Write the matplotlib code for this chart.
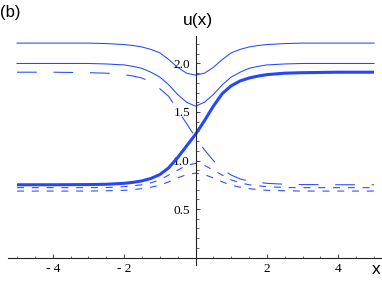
import matplotlib
matplotlib.use("Agg")
import matplotlib.pyplot as plt
from matplotlib.ticker import FixedLocator, MultipleLocator, FixedFormatter

# ========== Data ==========
x_pts = [-5, -4, -3, -2.5, -2, -1.75, -1.5, -1.25, -1, -0.75, -0.5, -0.25, 0,
         0.25, 0.5, 0.75, 1, 1.25, 1.5, 1.75, 2, 2.5, 3, 4, 5]

u_kink   = [0.75, 0.75, 0.752, 0.755, 0.765, 0.775, 0.79, 0.815, 0.855, 0.925, 1.03, 1.15, 1.27,
            1.41, 1.56, 1.69, 1.77, 1.82, 1.85, 1.87, 1.885, 1.90, 1.905, 1.91, 1.91]
u_top    = [2.21, 2.21, 2.21, 2.205, 2.195, 2.185, 2.17, 2.145, 2.11, 2.04, 1.96, 1.90, 1.88,
            1.90, 1.96, 2.04, 2.11, 2.145, 2.17, 2.185, 2.195, 2.205, 2.21, 2.21, 2.21]
u_second = [2.00, 2.00, 2.00, 1.995, 1.985, 1.97, 1.95, 1.91, 1.86, 1.78, 1.68, 1.60, 1.56,
            1.60, 1.68, 1.78, 1.86, 1.91, 1.95, 1.97, 1.985, 1.995, 2.00, 2.00, 2.00]
u_antik  = [1.91, 1.91, 1.905, 1.90, 1.885, 1.87, 1.85, 1.81, 1.74, 1.66, 1.52, 1.38, 1.24,
            1.11, 1.00, 0.91, 0.85, 0.81, 0.788, 0.775, 0.765, 0.755, 0.752, 0.75, 0.75]
u_bump1  = [0.72, 0.72, 0.72, 0.722, 0.73, 0.74, 0.75, 0.77, 0.80, 0.85, 0.90, 0.95, 0.97,
            0.95, 0.90, 0.85, 0.80, 0.77, 0.75, 0.74, 0.73, 0.722, 0.72, 0.72, 0.72]
u_bump2  = [0.685, 0.685, 0.685, 0.688, 0.693, 0.70, 0.71, 0.725, 0.745, 0.78, 0.82, 0.855, 0.87,
            0.855, 0.82, 0.78, 0.745, 0.725, 0.71, 0.70, 0.693, 0.688, 0.685, 0.685, 0.685]

x_major = [-4, -2, 2, 4]
x_labels = ["- 4", "- 2", "2", "4"]
y_major = [0.5, 1.0, 1.5, 2.0]
y_labels = ["0.5", "1.0", "1.5", "2.0"]

# ========== Plot ==========
W, H = 382, 285
fig = plt.figure(figsize=(W / 100, H / 100), dpi=100)
# axes box in pixels: left 8, right 382, top 36, bottom 265
ax = fig.add_axes([8.1 / W, (H - 265.3) / H, 374.1 / W, 229.0 / H])
ax.set_xlim(-5.25, 5.23)
ax.set_ylim(-0.08, 2.28)

blue = "#2446ff"
ax.plot(x_pts, u_top, color=blue, lw=0.75)
ax.plot(x_pts, u_second, color=blue, lw=0.75)
ax.plot(x_pts, u_antik, color=blue, lw=0.75, dashes=(19, 16))
ax.plot(x_pts, u_bump1, color=blue, lw=0.75, dashes=(6.7, 7.5))
ax.plot(x_pts, u_bump2, color=blue, lw=0.75, dashes=(6.7, 7.5))
ax.plot(x_pts, u_kink, color=blue, lw=2.2, solid_capstyle="butt", solid_joinstyle="round")

# axes through the origin, Mathematica style
for side in ["top", "right"]:
    ax.spines[side].set_visible(False)
ax.spines["left"].set_position(("data", 0))
ax.spines["bottom"].set_position(("data", 0))
for side in ["left", "bottom"]:
    ax.spines[side].set_linewidth(0.8)
    ax.spines[side].set_color("#222222")

ax.xaxis.set_major_locator(FixedLocator(x_major))
ax.xaxis.set_major_formatter(FixedFormatter(x_labels))
ax.xaxis.set_minor_locator(MultipleLocator(0.5))
ax.yaxis.set_major_locator(FixedLocator(y_major))
ax.yaxis.set_major_formatter(FixedFormatter(y_labels))
ax.yaxis.set_minor_locator(MultipleLocator(0.1))

ax.tick_params(which="major", direction="in", length=3.2, width=0.6,
               color="#222222", pad=4, labelsize=9.5)
ax.tick_params(which="minor", direction="in", length=1.8, width=0.5, color="#222222")
for lab in ax.get_xticklabels() + ax.get_yticklabels():
    lab.set_family("Liberation Serif")

ax.patch.set_visible(False)

fig.text(198 / W, 1 - 21 / H, "u(x)", family="Liberation Sans", fontsize=12.5,
         ha="center", va="center")
fig.text(376 / W, 1 - 270 / H, "x", family="Liberation Sans", fontsize=12.5,
         ha="center", va="center")
fig.text(10 / W, 1 - 12 / H, "(b)", family="Liberation Sans", fontsize=12,
         ha="center", va="center")

fig.savefig("out.png", dpi=100)
